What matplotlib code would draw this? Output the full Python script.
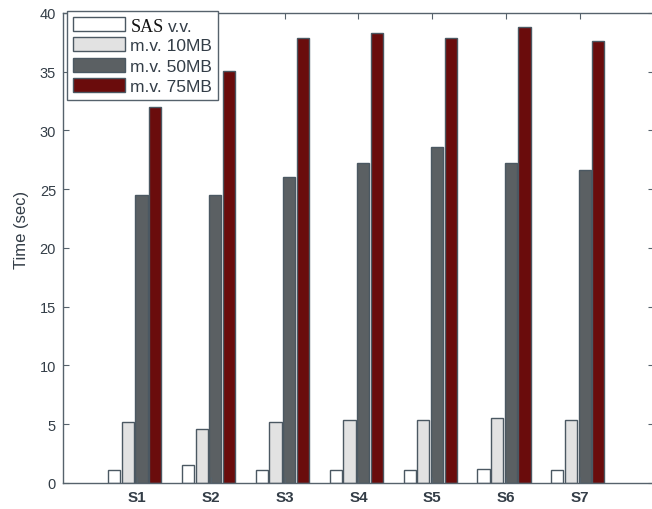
import numpy as np
import matplotlib
matplotlib.use("Agg")
import matplotlib.pyplot as plt

plt.rcParams['font.family'] = ['Liberation Sans', 'DejaVu Sans']

categories = ['S1', 'S2', 'S3', 'S4', 'S5', 'S6', 'S7']
sas_vv = [1.1, 1.5, 1.1, 1.1, 1.1, 1.2, 1.1]
mv_10mb = [5.2, 4.6, 5.2, 5.35, 5.35, 5.5, 5.35]
mv_50mb = [24.5, 24.5, 26.0, 27.2, 28.6, 27.2, 26.6]
mv_75mb = [32.0, 35.1, 37.9, 38.3, 37.9, 38.8, 37.6]

series = [
    ('SAS v.v.', sas_vv, '#ffffff'),
    ('m.v. 10MB', mv_10mb, '#e2e2e2'),
    ('m.v. 50MB', mv_50mb, '#5b6063'),
    ('m.v. 75MB', mv_75mb, '#6a0c0c'),
]

axis_col = '#56626c'
text_col = '#333d47'

fig = plt.figure(figsize=(6.52, 5.10), dpi=100)
ax = fig.add_axes([0.0966, 0.051, 0.9064, 0.9216])

x = np.arange(1, len(categories) + 1)
step = 0.185
width = 0.165
for i, (label, vals, col) in enumerate(series):
    ax.bar(x + (i - 1.5) * step - 0.03, vals, width, color=col,
           edgecolor='#4b5862', linewidth=1.0, label=label)

ax.set_xlim(0, 8)
ax.set_ylim(0, 40)
ax.set_xticks(x)
ax.set_xticklabels(categories, fontsize=11, fontweight='bold', color=text_col)
ax.set_yticks(np.arange(0, 41, 5))
ax.tick_params(axis='y', labelsize=10.5, labelcolor=text_col, direction='in',
               right=True, length=4, color=axis_col, pad=5)
ax.tick_params(axis='x', direction='in', top=True, length=4, color=axis_col, pad=5)
for s in ax.spines.values():
    s.set_color(axis_col)
    s.set_linewidth(1.0)
ax.set_ylabel('Time (sec)', fontsize=12, color=text_col)
ax.yaxis.set_label_coords(-0.057, 0.54)

leg = ax.legend(loc='upper left', bbox_to_anchor=(0.007, 1.004),
                borderaxespad=0.0, fontsize=12.5,
                handlelength=3.0, handleheight=0.85, labelspacing=0.25,
                handletextpad=0.3, borderpad=0.35, fancybox=False,
                framealpha=1.0, edgecolor=axis_col)
leg.get_frame().set_linewidth(1.0)
for t in leg.get_texts():
    t.set_color(text_col)

# first legend entry: "SAS" in a serif face, "v.v." in the sans face
fig.canvas.draw()
renderer = fig.canvas.get_renderer()
first = leg.get_texts()[0]
bb = first.get_window_extent(renderer)
first.set_alpha(0)
sas = fig.text(bb.x0 / fig.dpi / fig.get_figwidth(), (bb.y0 + 2) / fig.dpi / fig.get_figheight(),
               'SAS', family='Liberation Serif', fontsize=13, color='#111111',
               va='baseline', ha='left', zorder=10)
sb = sas.get_window_extent(renderer)
fig.text((sb.x1 + 4) / fig.dpi / fig.get_figwidth(), (bb.y0 + 2) / fig.dpi / fig.get_figheight(),
         'v.v.', fontsize=12.5, color=text_col, va='baseline', ha='left', zorder=10)

fig.savefig('out.png', dpi=100)
